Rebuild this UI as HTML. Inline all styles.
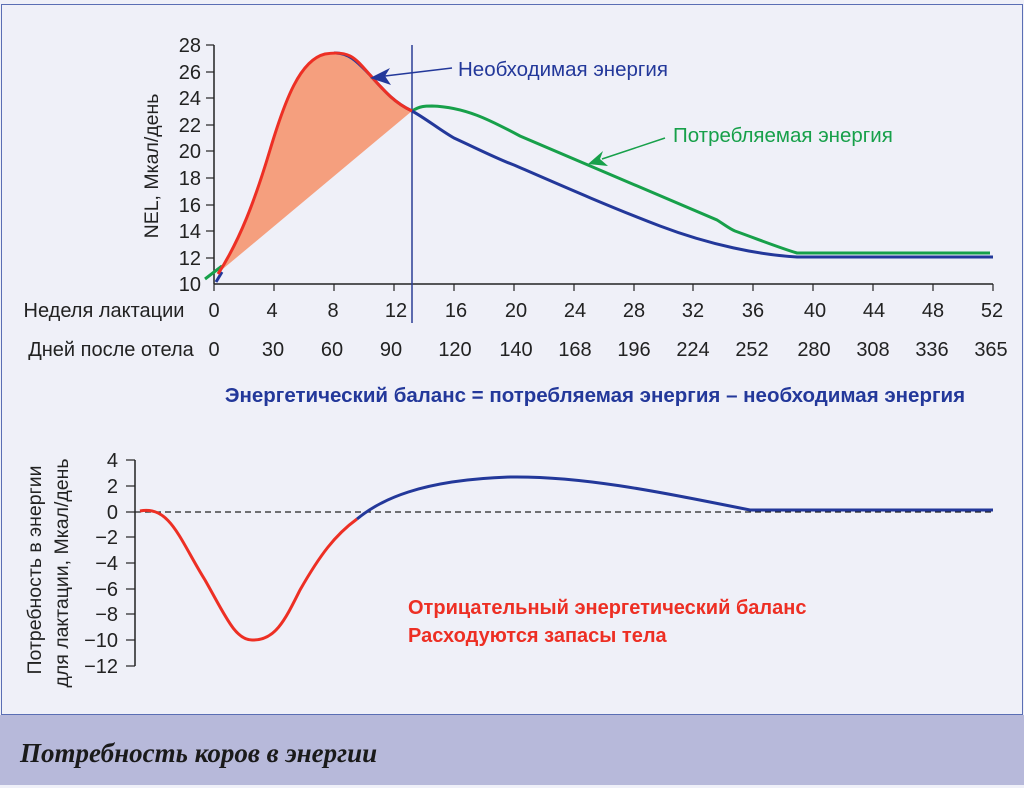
<!DOCTYPE html>
<html><head><meta charset="utf-8"><style>
body{margin:0;background:#eff0f8;}
svg{display:block;font-family:"Liberation Sans",sans-serif;}
</style></head><body>
<svg width="1024" height="788" viewBox="0 0 1024 788">
<rect x="0" y="0" width="1024" height="788" fill="#eff0f8"/>
<rect x="1.5" y="4.5" width="1021" height="710" fill="none" stroke="#5a6eb4" stroke-width="1"/>
<rect x="0" y="715" width="1024" height="70" fill="#b7b9da"/>
<text x="20" y="762" font-family="Liberation Serif,serif" font-style="italic" font-weight="bold" font-size="27" fill="#1a1a1a">Потребность коров в энергии</text>

<path d="M218,273 C240,240 255,200 270,150 C285,100 300,60 325,54 C350,50 355,58 370,75 C385,92 395,103 412,111 Z" fill="#f59f7e"/>
<g stroke="#222" stroke-width="1.5" fill="none">
<line x1="214" y1="45" x2="214" y2="284"/>
<line x1="214" y1="284" x2="993" y2="284"/>
</g>
<g stroke="#222" stroke-width="1.2">
<line x1="206" y1="45" x2="214" y2="45"/><line x1="206" y1="72" x2="214" y2="72"/><line x1="206" y1="98" x2="214" y2="98"/><line x1="206" y1="125" x2="214" y2="125"/><line x1="206" y1="151" x2="214" y2="151"/><line x1="206" y1="178" x2="214" y2="178"/><line x1="206" y1="205" x2="214" y2="205"/><line x1="206" y1="231" x2="214" y2="231"/><line x1="206" y1="258" x2="214" y2="258"/>
<line x1="214" y1="284" x2="214" y2="291"/><line x1="274" y1="284" x2="274" y2="291"/><line x1="334" y1="284" x2="334" y2="291"/><line x1="394" y1="284" x2="394" y2="291"/><line x1="454" y1="284" x2="454" y2="291"/><line x1="514" y1="284" x2="514" y2="291"/><line x1="574" y1="284" x2="574" y2="291"/><line x1="634" y1="284" x2="634" y2="291"/><line x1="693" y1="284" x2="693" y2="291"/><line x1="753" y1="284" x2="753" y2="291"/><line x1="813" y1="284" x2="813" y2="291"/><line x1="873" y1="284" x2="873" y2="291"/><line x1="933" y1="284" x2="933" y2="291"/><line x1="993" y1="284" x2="993" y2="291"/>
</g>
<g font-size="20" fill="#222" text-anchor="end">
<text x="201" y="52">28</text><text x="201" y="79">26</text><text x="201" y="105">24</text><text x="201" y="132">22</text><text x="201" y="158">20</text><text x="201" y="185">18</text><text x="201" y="212">16</text><text x="201" y="238">14</text><text x="201" y="265">12</text><text x="201" y="291">10</text>
</g>
<text transform="translate(158,166) rotate(-90)" font-size="19.5" fill="#222" text-anchor="middle">NEL, Мкал/день</text>
<g font-size="20" fill="#222" text-anchor="middle">
<text x="104" y="317">Неделя лактации</text>
<text x="214" y="317">0</text><text x="272" y="317">4</text><text x="333" y="317">8</text><text x="396" y="317">12</text><text x="456" y="317">16</text><text x="516" y="317">20</text><text x="575" y="317">24</text><text x="634" y="317">28</text><text x="693" y="317">32</text><text x="753" y="317">36</text><text x="815" y="317">40</text><text x="874" y="317">44</text><text x="933" y="317">48</text><text x="992" y="317">52</text>
<text x="111" y="356">Дней после отела</text>
<text x="214" y="356">0</text><text x="273" y="356">30</text><text x="332" y="356">60</text><text x="391" y="356">90</text><text x="455" y="356">120</text><text x="516" y="356">140</text><text x="575" y="356">168</text><text x="634" y="356">196</text><text x="693" y="356">224</text><text x="752" y="356">252</text><text x="814" y="356">280</text><text x="873" y="356">308</text><text x="932" y="356">336</text><text x="991" y="356">365</text>
</g>
<line x1="412" y1="45" x2="412" y2="323" stroke="#2c3e95" stroke-width="1.5"/>

<path d="M205,279 L222,266 M412,111 C420,106 425,106 432,106 C465,107 490,120 520,136 L717,220 C725,225 730,229 735,231 C760,240 780,248 797,253 L990,253" fill="none" stroke="#17a04a" stroke-width="3"/>
<path d="M216,282 L222,272 M334,53 C350,52 360,65 370,75 C385,92 395,103 412,111 C425,118 440,130 454,138 C480,150 500,160 514,165 C560,185 610,207 660,226 C710,245 760,255 797,257 L993,257" fill="none" stroke="#23389a" stroke-width="3"/>
<path d="M218,274 C240,240 255,200 270,150 C285,100 300,60 325,54 C350,50 355,58 370,75 C385,92 395,103 412,111" fill="none" stroke="#ed2f24" stroke-width="3"/>

<line x1="452" y1="68" x2="385" y2="76" stroke="#23389a" stroke-width="1.5"/>
<polygon points="370,78 390,68 385,76 391,85" fill="#23389a"/>
<text x="458" y="76" font-size="20.5" fill="#23389a">Необходимая энергия</text>
<line x1="665" y1="138" x2="602" y2="159" stroke="#17a04a" stroke-width="1.5"/>
<polygon points="588,164 603,151 600,159 608,166" fill="#17a04a"/>
<text x="673" y="142" font-size="20.5" fill="#17a04a">Потребляемая энергия</text>

<text x="595" y="402" font-size="20.5" font-weight="bold" fill="#23389a" text-anchor="middle">Энергетический баланс = потребляемая энергия – необходимая энергия</text>

<g stroke="#222" stroke-width="1.5" fill="none">
<line x1="135" y1="460" x2="135" y2="666"/>
</g>
<g stroke="#222" stroke-width="1.2">
<line x1="126" y1="460" x2="135" y2="460"/><line x1="126" y1="486" x2="135" y2="486"/><line x1="126" y1="512" x2="135" y2="512"/><line x1="126" y1="537" x2="135" y2="537"/><line x1="126" y1="563" x2="135" y2="563"/><line x1="126" y1="589" x2="135" y2="589"/><line x1="126" y1="614" x2="135" y2="614"/><line x1="126" y1="640" x2="135" y2="640"/><line x1="126" y1="666" x2="135" y2="666"/>
</g>
<line x1="135" y1="512" x2="995" y2="512" stroke="#222" stroke-width="1.2" stroke-dasharray="6,4"/>
<g font-size="20" fill="#222" text-anchor="end">
<text x="118" y="467">4</text><text x="118" y="493">2</text><text x="118" y="519">0</text><text x="118" y="544">−2</text><text x="118" y="570">−4</text><text x="118" y="596">−6</text><text x="118" y="621">−8</text><text x="118" y="647">−10</text><text x="118" y="673">−12</text>
</g>
<text transform="translate(41,570) rotate(-90)" font-size="19.5" fill="#222" text-anchor="middle">Потребность в энергии</text>
<text transform="translate(68,573) rotate(-90)" font-size="19.5" fill="#222" text-anchor="middle">для лактации, Мкал/день</text>
<path d="M140,511 C170,505 180,540 205,580 C225,615 235,640 252,640 C275,641 285,620 300,590 C320,555 335,535 357,519" fill="none" stroke="#ed2f24" stroke-width="3"/>
<path d="M357,519 C380,500 420,480 510,477 C580,476 650,490 750,510 L993,510" fill="none" stroke="#23389a" stroke-width="3"/>
<text x="408" y="614" font-size="20" font-weight="bold" fill="#ed2f24">Отрицательный энергетический баланс</text>
<text x="408" y="642" font-size="20" font-weight="bold" fill="#ed2f24">Расходуются запасы тела</text>
</svg>
</body></html>
